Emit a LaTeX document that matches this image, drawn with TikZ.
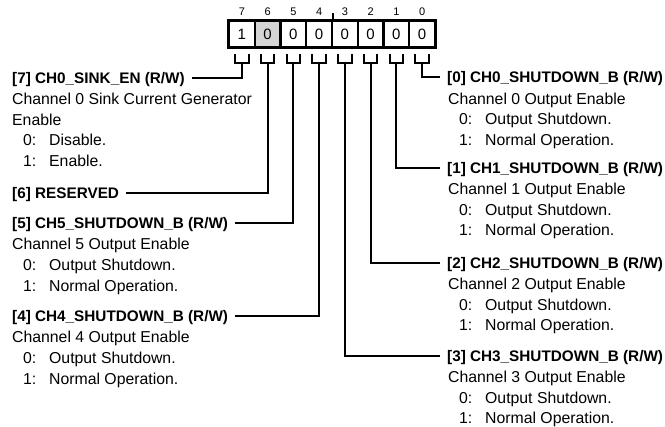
\documentclass[tikz,border=0pt]{standalone}
\usepackage{fontspec}
\setmainfont{Liberation Sans}
\begin{document}
\begin{tikzpicture}[x=1pt,y=-1pt,
  title/.style={font=\fontsize{15.3}{18}\selectfont\bfseries, inner xsep=7pt, inner ysep=0pt, text height=10.9pt, text depth=0pt},
  desc/.style={font=\fontsize{15.8}{18}\selectfont, inner sep=0pt, anchor=base west},
  cellbox/.style={draw, line width=2pt, minimum width=25.75pt, minimum height=26pt, inner sep=0pt, font=\fontsize{15}{17}\selectfont},
  bitnum/.style={font=\fontsize{11}{13}\selectfont, inner sep=0pt},
  wire/.style={line width=2pt},
]
\useasboundingbox (0,0) rectangle (665,427);
\newcommand{\optline}[2]{\makebox[26pt][l]{#1}#2}

% register cells
\node[cellbox] (c7) at (241.9,34) {1};
\node[cellbox, fill=black!17] (c6) at (267.6,34) {0};
\node[cellbox] (c5) at (293.4,34) {0};
\node[cellbox] (c4) at (319.1,34) {0};
\node[cellbox] (c3) at (344.9,34) {0};
\node[cellbox] (c2) at (370.6,34) {0};
\node[cellbox] (c1) at (396.4,34) {0};
\node[cellbox] (c0) at (422.1,34) {0};
\draw[line width=2.6pt] (c7.north west) rectangle (c0.south east);
\draw[wire] (c4.north east) -- ++(0,-7);

% bit numbers
\foreach \i/\x in {7/241.9,6/267.6,5/293.4,4/319.1,3/344.9,2/370.6,1/396.4,0/422.1}
  \node[bitnum] (n\i) at (\x,12) {\i};

% brackets and stems
\foreach \i in {7,6,5,4,3,2,1,0}{
  \draw[wire] ([xshift=-6.8pt,yshift=-6pt]c\i.south) -- ++(0,9.5) -- ++(13.6,0) -- ++(0,-9.5);
  \coordinate (u\i) at ([yshift=-15.5pt]c\i.south);
}

% left titles
\node[title, anchor=west] (t7) at (5,78) {[7] CH0\_SINK\_EN (R/W)};
\node[title, anchor=west] (t6) at (5,193) {[6] RESERVED};
\node[title, anchor=west] (t5) at (5,223) {[5] CH5\_SHUTDOWN\_B (R/W)};
\node[title, anchor=west] (t4) at (5,316) {[4] CH4\_SHUTDOWN\_B (R/W)};
% right titles
\node[title, anchor=west] (t0) at (440,77.5) {[0] CH0\_SHUTDOWN\_B (R/W)};
\node[title, anchor=west] (t1) at (440,168) {[1] CH1\_SHUTDOWN\_B (R/W)};
\node[title, anchor=west] (t2) at (440,263) {[2] CH2\_SHUTDOWN\_B (R/W)};
\node[title, anchor=west] (t3) at (440,356) {[3] CH3\_SHUTDOWN\_B (R/W)};

% connectors
\draw[wire] (u7) |- (t7.east);
\draw[wire] (u6) |- (t6.east);
\draw[wire] (u5) |- (t5.east);
\draw[wire] (u4) |- (t4.east);
\draw[wire] (u0) |- (t0.west);
\draw[wire] (u1) |- (t1.west);
\draw[wire] (u2) |- (t2.west);
\draw[wire] (u3) |- (t3.west);

% bit 7 description
\node[desc] (d7a) at (12,104.9) {Channel 0 Sink Current Generator};
\node[desc] (d7b) at (12,125.4) {Enable};
\node[desc] (d7c) at (23,145.9) {\optline{0:}{Disable.}};
\node[desc] (d7d) at (23,166.4) {\optline{1:}{Enable.}};
% bit 5
\node[desc] (d5a) at (12,250) {Channel 5 Output Enable};
\node[desc] (d5b) at (23,271) {\optline{0:}{Output Shutdown.}};
\node[desc] (d5c) at (23,291.5) {\optline{1:}{Normal Operation.}};
% bit 4
\node[desc] (d4a) at (12,343) {Channel 4 Output Enable};
\node[desc] (d4b) at (23,364) {\optline{0:}{Output Shutdown.}};
\node[desc] (d4c) at (23,384.5) {\optline{1:}{Normal Operation.}};
% bit 0
\node[desc] (d0a) at (448,104.4) {Channel 0 Output Enable};
\node[desc] (d0b) at (459,125) {\optline{0:}{Output Shutdown.}};
\node[desc] (d0c) at (459,145.5) {\optline{1:}{Normal Operation.}};
% bit 1
\node[desc] (d1a) at (448,194.9) {Channel 1 Output Enable};
\node[desc] (d1b) at (459,215.5) {\optline{0:}{Output Shutdown.}};
\node[desc] (d1c) at (459,236) {\optline{1:}{Normal Operation.}};
% bit 2
\node[desc] (d2a) at (448,289.9) {Channel 2 Output Enable};
\node[desc] (d2b) at (459,310.5) {\optline{0:}{Output Shutdown.}};
\node[desc] (d2c) at (459,331) {\optline{1:}{Normal Operation.}};
% bit 3
\node[desc] (d3a) at (448,382.9) {Channel 3 Output Enable};
\node[desc] (d3b) at (459,403.5) {\optline{0:}{Output Shutdown.}};
\node[desc] (d3c) at (459,424) {\optline{1:}{Normal Operation.}};
\end{tikzpicture}
\end{document}
